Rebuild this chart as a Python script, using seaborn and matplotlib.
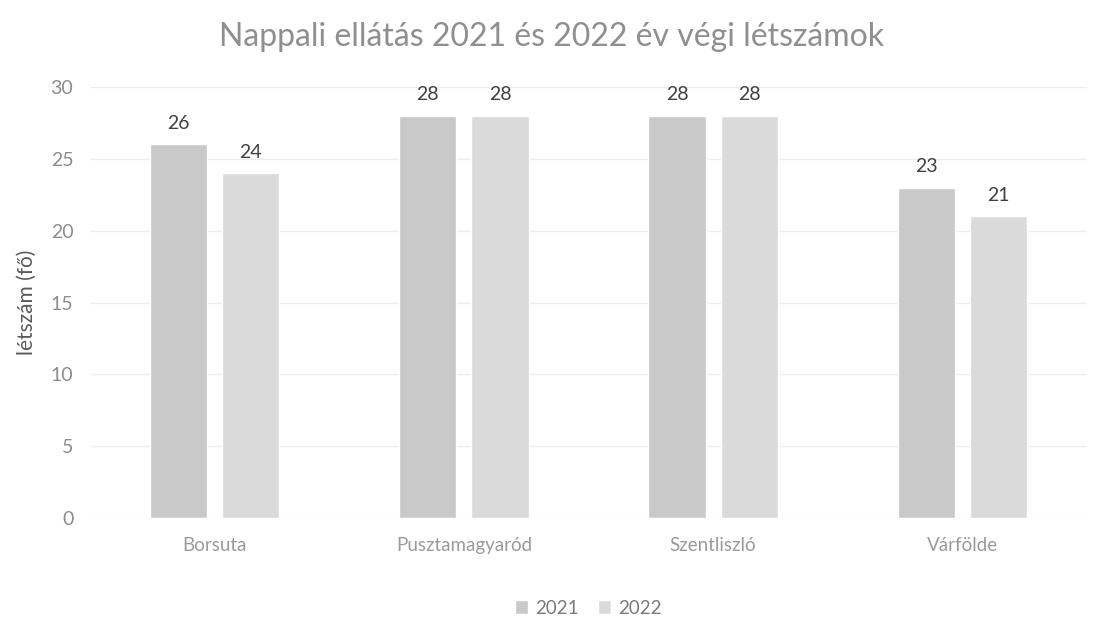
import matplotlib
matplotlib.use("Agg")
import matplotlib.pyplot as plt
import seaborn as sns
import pandas as pd

categories = ["Borsuta", "Pusztamagyaród", "Szentliszló", "Várfölde"]
values_2021 = [26, 28, 28, 23]
values_2022 = [24, 28, 28, 21]
years = ["2021", "2022"]
title = "Nappali ellátás 2021 és 2022 év végi létszámok"
ylabel = "létszám (fő)"

df = pd.DataFrame({
    "cat": categories * 2,
    "val": values_2021 + values_2022,
    "year": [years[0]] * 4 + [years[1]] * 4,
})

sns.set_theme(style="white")
plt.rcParams['font.family'] = ['Lato', 'DejaVu Sans']

fig = plt.figure(figsize=(11.03, 6.38), dpi=100)
ax = fig.add_axes([90/1103, 120/638, 997/1103, 431/638])

palette = {"2021": "#c9c9c9", "2022": "#dadada"}
sns.barplot(data=df, x="cat", y="val", hue="year", palette=palette,
            width=0.58, gap=0.21, ax=ax, legend=True, saturation=1)

for c in ax.containers:
    ax.bar_label(c, fmt="%d", padding=9, fontsize=14, color="#404040")

ax.set_ylim(0, 30)
ax.set_yticks(range(0, 31, 5))
ax.yaxis.grid(True, color="#eeeeee", linewidth=1)
ax.set_axisbelow(True)
for s in ax.spines.values():
    s.set_visible(False)
ax.tick_params(axis="y", colors="#8c8c8c", labelsize=14, length=0, pad=12)
ax.tick_params(axis="x", colors="#9a9a9a", labelsize=13.5, length=0, pad=14)
ax.set_xlabel("")
ax.set_ylabel(ylabel, fontsize=15, color="#595959", labelpad=10)

fig.suptitle(title, fontsize=23, color="#8f8f8f", y=0.965)

leg = ax.legend(loc="upper center", bbox_to_anchor=(0.5, -0.15), ncol=2,
                frameon=False, fontsize=13.5, handlelength=0.7, handleheight=0.7,
                columnspacing=1.0, handletextpad=0.4)
for t in leg.get_texts():
    t.set_color("#7a7a7a")

fig.savefig("out.png", dpi=100)
